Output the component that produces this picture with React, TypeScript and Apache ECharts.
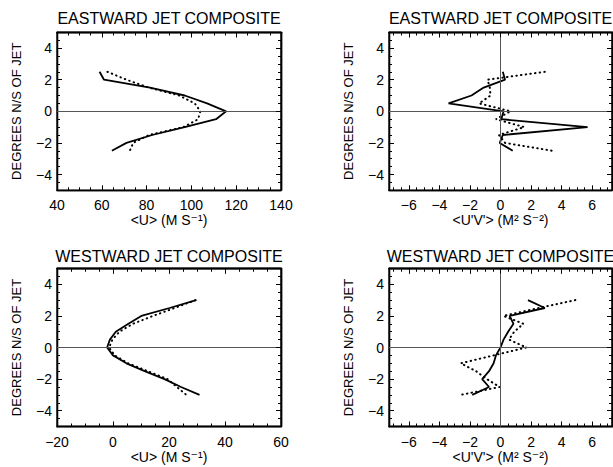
import React, { useEffect, useRef } from 'react';
import * as echarts from 'echarts';

// ---- data (degrees N/S of jet vs. value) ----
const EAST_DEG = [2.5, 2, 1.5, 1, 0.5, 0, -0.5, -1, -1.5, -2, -2.5];
const EAST_U_SOLID = [59, 61, 81.5, 97, 107, 115.5, 111, 97, 82.5, 71, 64.5];
const EAST_U_DOTTED = [62.5, 71, 81, 94.5, 101.5, 104, 103, 96.5, 81, 74, 72.5];
const EAST_UV_SOLID = [0.15, 0.3, -1.1, -1.9, -3.4, 0.2, 0.05, 5.7, 0.15, -0.05, 0.8];
const EAST_UV_DOTTED = [2.9, -0.85, -0.7, -0.65, -1.4, 0.65, -0.3, 1.55, -0.1, 0.3, 3.4];

const WEST_DEG = [3, 2.5, 2, 1.5, 1, 0.5, 0, -0.5, -1, -1.5, -2, -2.5, -3];
const WEST_U_SOLID = [29.7, 20.2, 10.1, 5.5, 1.0, -1.1, -2.1, 0, 4.8, 11.3, 18.4, 24.3, 30.9];
const WEST_U_DOTTED = [29.5, 22, 14.3, 7.1, 2.3, -0.2, -1.4, 0.6, 5.4, 12.5, 19.5, 22.8, 26.2];
const WEST_UV_SOLID = [1.8, 2.9, 0.6, 0.85, 0.5, 0.2, 0, -0.3, -0.45, -0.75, -1.2, -0.75, -1.85];
const WEST_UV_DOTTED = [4.9, 2.5, 0.2, 1.5, 0.9, 0.55, 1.7, -0.45, -2.6, -1.6, -0.9, -0.05, -2.6];

// ---- tick labels ----
const Y_TICKS = [-4, -2, 0, 2, 4];
const U_EAST_TICKS = [40, 60, 80, 100, 120, 140];
const U_WEST_TICKS = [-20, 0, 20, 40, 60];
const UV_TICKS = [-6, -4, -2, 0, 2, 4, 6];

const TITLES = ['EASTWARD JET COMPOSITE', 'EASTWARD JET COMPOSITE', 'WESTWARD JET COMPOSITE', 'WESTWARD JET COMPOSITE'];
const X_NAMES = ['<U> (M S\u207B\u00B9)', "<U'V'> (M\u00B2 S\u207B\u00B2)", '<U> (M S\u207B\u00B9)', "<U'V'> (M\u00B2 S\u207B\u00B2)"];
const Y_NAME = 'DEGREES N/S OF JET';

const FONT = "'Liberation Sans', Arial, 'DejaVu Sans', sans-serif";

const PANELS = [
  { left: 57, top: 32.3, width: 224, height: 158, titleTop: 10.5, xMin: 40, xMax: 140, xMajors: U_EAST_TICKS, xStep: 5, deg: EAST_DEG, solid: EAST_U_SOLID, dotted: EAST_U_DOTTED, vZero: false },
  { left: 389, top: 32.3, width: 223, height: 158, titleTop: 10.5, xMin: -7.3, xMax: 7.3, xMajors: UV_TICKS, xStep: 0.5, deg: EAST_DEG, solid: EAST_UV_SOLID, dotted: EAST_UV_DOTTED, vZero: true },
  { left: 57, top: 268.5, width: 224, height: 158, titleTop: 248, xMin: -20, xMax: 60, xMajors: U_WEST_TICKS, xStep: 5, deg: WEST_DEG, solid: WEST_U_SOLID, dotted: WEST_U_DOTTED, vZero: false },
  { left: 389, top: 268.5, width: 223, height: 158, titleTop: 248, xMin: -7.3, xMax: 7.3, xMajors: UV_TICKS, xStep: 0.5, deg: WEST_DEG, solid: WEST_UV_SOLID, dotted: WEST_UV_DOTTED, vZero: true },
];

function stepsBetween(min: number, max: number, step: number, exclude: number[]) {
  const out: number[] = [];
  const start = Math.ceil(min / step - 1e-9);
  const end = Math.floor(max / step + 1e-9);
  for (let k = start; k <= end; k++) {
    const v = Math.round(k * step * 1000) / 1000;
    if (v <= min + 1e-6 || v >= max - 1e-6) continue;
    if (!exclude.some((e) => Math.abs(e - v) < 1e-6)) out.push(v);
  }
  return out;
}

const fmt = (v: number) => (v < 0 ? '\u2212' + Math.abs(v) : String(v));

function buildOption() {
  const grid: any[] = [];
  const xAxis: any[] = [];
  const yAxis: any[] = [];
  const series: any[] = [];
  const title: any[] = [];
  const Y_MIN = -5;
  const Y_MAX = 5;

  PANELS.forEach((p, i) => {
    grid.push({ left: p.left, top: p.top, width: p.width, height: p.height, show: true, borderColor: '#000', borderWidth: 1.3 });
    title.push({
      text: TITLES[i], left: p.left + p.width / 2, top: p.titleTop, textAlign: 'center', padding: 0,
      textStyle: { fontSize: 16, fontWeight: 'normal', color: '#000', fontFamily: FONT },
    });
    const xMinors = stepsBetween(p.xMin, p.xMax, p.xStep, p.xMajors);
    const yMinors = stepsBetween(Y_MIN, Y_MAX, 0.5, Y_TICKS);
    const xBase = xAxis.length;
    const yBase = yAxis.length;
    const mkX = (position: string, ticks: number[], len: number, main: boolean) => {
      const ax: any = {
        type: 'value', gridIndex: i, position, min: p.xMin, max: p.xMax,
        axisLine: { show: true, onZero: false, lineStyle: { color: '#000', width: 1.3 } },
        splitLine: { show: false },
        axisTick: { show: true, inside: true, length: len, customValues: ticks, lineStyle: { color: '#000', width: 1 } },
        axisLabel: { show: false },
      };
      if (main) {
        ax.axisLabel = { show: true, customValues: p.xMajors, formatter: fmt, margin: 8, color: '#000', fontSize: 14, fontFamily: FONT };
        ax.name = X_NAMES[i];
        ax.nameLocation = 'middle';
        ax.nameGap = 23;
        ax.nameTextStyle = { fontSize: 14, color: '#000', fontFamily: FONT };
      }
      return ax;
    };
    const mkY = (position: string, ticks: number[], len: number, main: boolean) => {
      const ax: any = {
        type: 'value', gridIndex: i, position, min: Y_MIN, max: Y_MAX,
        axisLine: { show: true, onZero: false, lineStyle: { color: '#000', width: 1.3 } },
        splitLine: { show: false },
        axisTick: { show: true, inside: true, length: len, customValues: ticks, lineStyle: { color: '#000', width: 1 } },
        axisLabel: { show: false },
      };
      if (main) {
        ax.axisLabel = { show: true, customValues: Y_TICKS, formatter: fmt, margin: 5, color: '#000', fontSize: 14, fontFamily: FONT };
        ax.name = Y_NAME;
        ax.nameLocation = 'middle';
        ax.nameRotate = 90;
        ax.nameGap = 34;
        ax.nameTextStyle = { fontSize: 13, color: '#000', fontFamily: FONT };
      }
      return ax;
    };
    xAxis.push(mkX('bottom', p.xMajors, 5, true));
    xAxis.push(mkX('bottom', xMinors, 3, false));
    xAxis.push(mkX('top', p.xMajors, 5, false));
    xAxis.push(mkX('top', xMinors, 3, false));
    yAxis.push(mkY('left', Y_TICKS, 5, true));
    yAxis.push(mkY('left', yMinors, 3, false));
    yAxis.push(mkY('right', Y_TICKS, 5, false));
    yAxis.push(mkY('right', yMinors, 3, false));

    // frame on the top and right sides, plus their ticks, placed through the axes' scales
    const yPerPx = (Y_MAX - Y_MIN) / p.height;
    const xPerPx = (p.xMax - p.xMin) / p.width;
    const frameStyle = { color: '#000', width: 1.3, type: 'solid' };
    const tickStyle = { color: '#000', width: 1, type: 'solid' };
    const frame: any[] = [
      [{ coord: [p.xMin, Y_MAX], lineStyle: frameStyle }, { coord: [p.xMax, Y_MAX] }],
      [{ coord: [p.xMax, Y_MIN], lineStyle: frameStyle }, { coord: [p.xMax, Y_MAX] }],
    ];
    p.xMajors.forEach((v) => frame.push([{ coord: [v, Y_MAX], lineStyle: tickStyle }, { coord: [v, Y_MAX - 5 * yPerPx] }]));
    xMinors.forEach((v) => frame.push([{ coord: [v, Y_MAX], lineStyle: tickStyle }, { coord: [v, Y_MAX - 3 * yPerPx] }]));
    Y_TICKS.forEach((v) => frame.push([{ coord: [p.xMax, v], lineStyle: tickStyle }, { coord: [p.xMax - 5 * xPerPx, v] }]));
    yMinors.forEach((v) => frame.push([{ coord: [p.xMax, v], lineStyle: tickStyle }, { coord: [p.xMax - 3 * xPerPx, v] }]));

    const zeroLines: any[] = [{ yAxis: 0 }];
    if (p.vZero) zeroLines.push({ xAxis: 0 });
    series.push({
      type: 'line', xAxisIndex: xBase, yAxisIndex: yBase, symbol: 'none', silent: true, clip: false,
      data: p.dotted.map((v, k) => [v, p.deg[k]]),
      lineStyle: { color: '#000', width: 2, type: [0.5, 4.2], cap: 'round' },
      markLine: {
        silent: true, symbol: ['none', 'none'], label: { show: false },
        lineStyle: { color: '#555', width: 1, type: 'solid' }, data: zeroLines.concat(frame),
      },
    });
    series.push({
      type: 'line', xAxisIndex: xBase, yAxisIndex: yBase, symbol: 'none', silent: true, clip: false,
      data: p.solid.map((v, k) => [v, p.deg[k]]),
      lineStyle: { color: '#000', width: 1.8 },
    });
  });

  return { animation: false, title, grid, xAxis, yAxis, series };
}

export default function App() {
  const ref = useRef<HTMLDivElement>(null);
  useEffect(() => {
    document.body.style.margin = '0';
    const chart = echarts.init(ref.current!, null, { renderer: 'svg' });
    chart.setOption(buildOption() as any);
    return () => chart.dispose();
  }, []);
  return <div ref={ref} style={{ width: 613, height: 467 }} />;
}
